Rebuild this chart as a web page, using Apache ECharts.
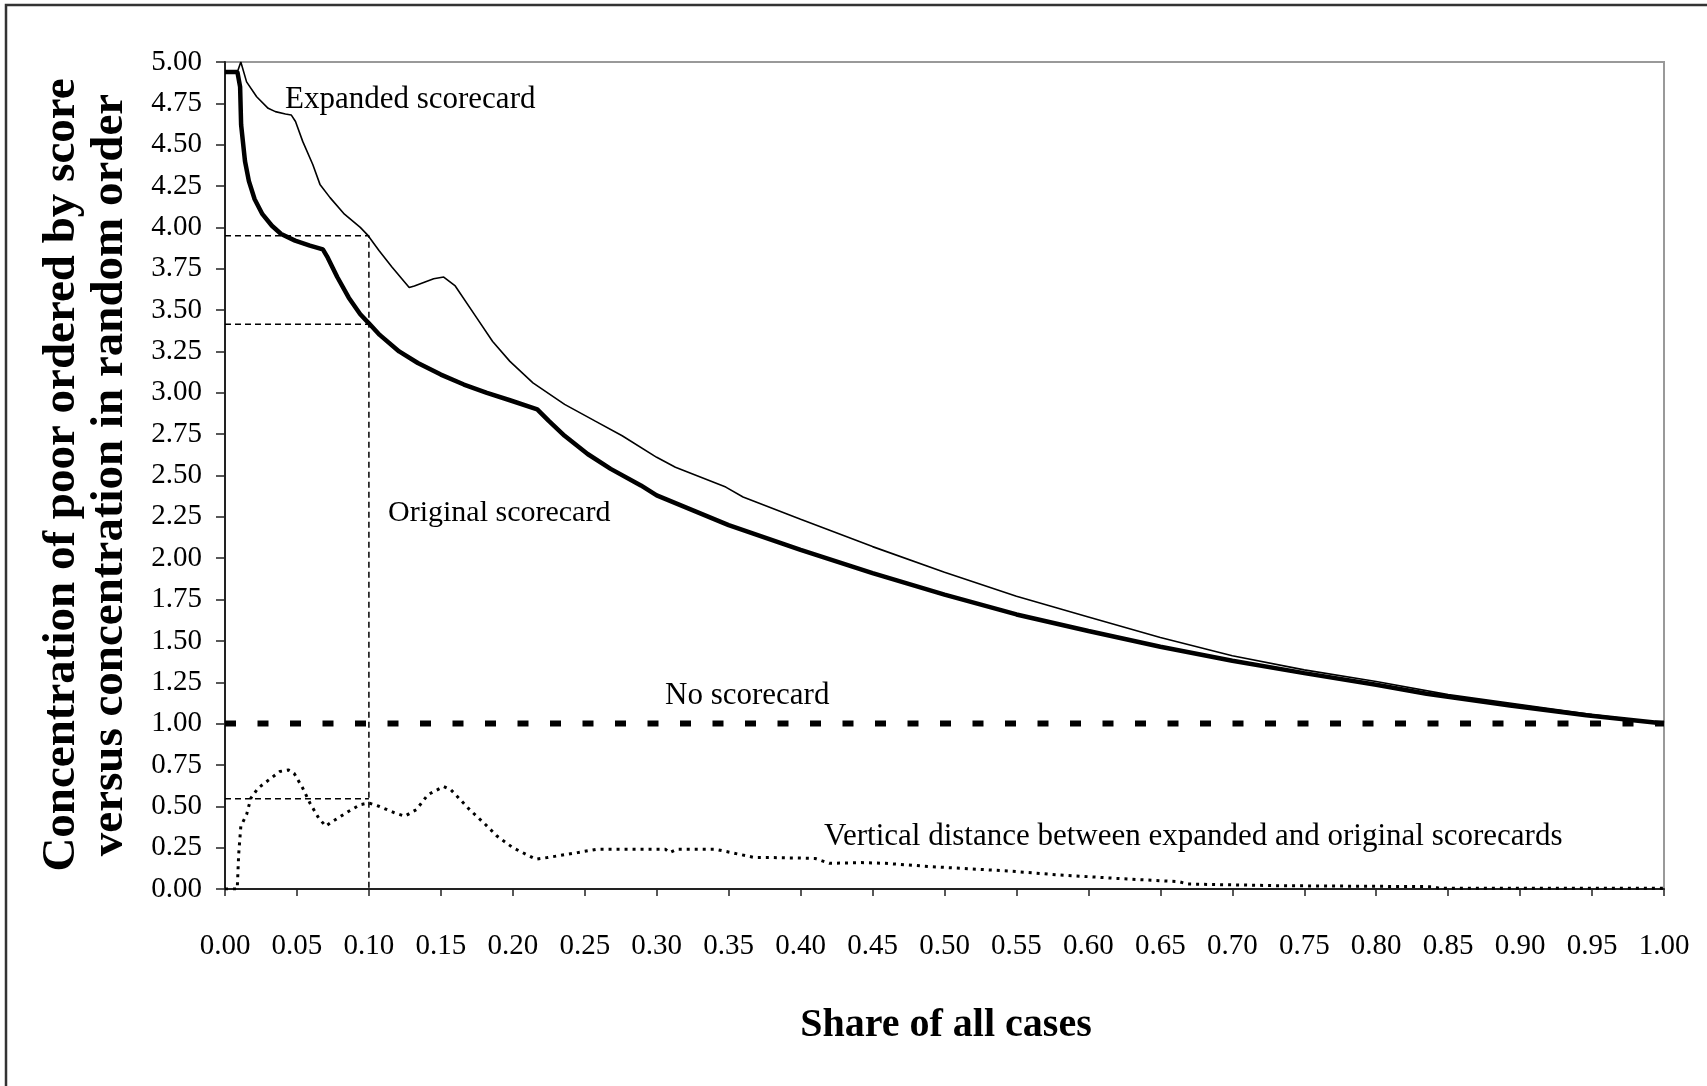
<!DOCTYPE html>
<html>
<head>
<meta charset="utf-8">
<script src="https://cdn.jsdelivr.net/npm/echarts@6/dist/echarts.min.js"></script>
<style>
html,body{margin:0;padding:0;background:#fff;}
#chart{width:1707px;height:1086px;}
</style>
</head>
<body>
<div id="chart"></div>
<script>
// ---- data ----
const xTicks = [0,0.05,0.10,0.15,0.20,0.25,0.30,0.35,0.40,0.45,0.50,0.55,0.60,0.65,0.70,0.75,0.80,0.85,0.90,0.95,1.00];
const yTicks = [0,0.25,0.5,0.75,1,1.25,1.5,1.75,2,2.25,2.5,2.75,3,3.25,3.5,3.75,4,4.25,4.5,4.75,5];

const originalX = [0,0.0086,0.0105,0.0112,0.0139,0.0166,0.0206,0.026,0.0326,0.039,0.0487,0.059,0.068,0.0714,0.078,0.086,0.094,0.100,0.1075,0.121,0.134,0.150,0.166,0.182,0.198,0.217,0.225,0.236,0.252,0.268,0.289,0.30,0.35,0.40,0.45,0.50,0.55,0.60,0.65,0.70,0.75,0.80,0.835,0.893,0.946,1.0];
const originalY = [4.94,4.94,4.85,4.62,4.40,4.28,4.17,4.08,4.01,3.96,3.92,3.89,3.867,3.817,3.70,3.575,3.475,3.42,3.35,3.25,3.18,3.11,3.05,3.00,2.955,2.90,2.83,2.74,2.63,2.54,2.44,2.38,2.20,2.05,1.91,1.78,1.66,1.56,1.465,1.38,1.305,1.235,1.18,1.11,1.05,1.0];

const expandedX = [0,0.0086,0.011,0.015,0.022,0.030,0.035,0.042,0.046,0.049,0.054,0.061,0.066,0.073,0.083,0.094,0.0995,0.107,0.116,0.128,0.1316,0.145,0.152,0.16,0.174,0.186,0.198,0.214,0.236,0.257,0.276,0.30,0.313,0.348,0.36,0.40,0.45,0.50,0.55,0.60,0.65,0.70,0.75,0.80,0.85,0.90,0.95,1.0];
const expandedY = [4.94,4.94,5.00,4.88,4.79,4.72,4.70,4.686,4.68,4.64,4.52,4.38,4.26,4.18,4.08,4.00,3.95,3.86,3.76,3.636,3.646,3.69,3.70,3.646,3.465,3.31,3.19,3.06,2.93,2.83,2.74,2.61,2.55,2.43,2.37,2.235,2.07,1.915,1.77,1.645,1.52,1.41,1.325,1.255,1.175,1.115,1.055,1.0];

const noScoreX = [0,1];
const noScoreY = [1,1];

const distanceX = [0,0.0085,0.0095,0.011,0.015,0.018,0.023,0.032,0.038,0.044,0.048,0.054,0.059,0.065,0.070,0.075,0.086,0.094,0.100,0.107,0.118,0.125,0.133,0.141,0.152,0.157,0.170,0.181,0.189,0.200,0.216,0.224,0.245,0.258,0.288,0.306,0.309,0.314,0.341,0.352,0.368,0.381,0.41,0.42,0.442,0.459,0.491,0.544,0.58,0.62,0.663,0.669,0.732,0.839,0.844,1.0];
const distanceY = [0,0,0.21,0.38,0.45,0.55,0.61,0.67,0.71,0.72,0.70,0.61,0.52,0.43,0.38,0.41,0.47,0.51,0.52,0.50,0.46,0.44,0.48,0.57,0.62,0.60,0.48,0.39,0.32,0.25,0.18,0.19,0.22,0.24,0.24,0.24,0.22,0.24,0.24,0.22,0.19,0.19,0.185,0.155,0.16,0.155,0.135,0.109,0.085,0.064,0.044,0.03,0.02,0.014,0.004,0.004];

// guide lines at share 0.10
const guideShare = 0.10;
const guideExpanded = 3.95;
const guideOriginal = 3.415;
const guideDistance = 0.545;

const labelTexts = {
  expanded: 'Expanded scorecard',
  original: 'Original scorecard',
  none: 'No scorecard',
  distance: 'Vertical distance between expanded and original scorecards',
  xTitle: 'Share of all cases',
  yTitle: 'Concentration of poor ordered by score\nversus concentration in random order'
};

function zip(xs, ys){ return xs.map((x,i)=>[x, ys[i]]); }

const FONT = '"Liberation Serif", "Times New Roman", serif';
const chart = echarts.init(document.getElementById('chart'));

const lineBase = {type:'line', symbol:'none', showSymbol:false, smooth:false, animation:false};

chart.setOption({
  animation:false,
  backgroundColor:'#fff',
  grid:{left:225, top:62, right:43, bottom:197, show:true, borderColor:'#999', borderWidth:2, backgroundColor:'transparent'},
  xAxis:{
    type:'value', min:0, max:1, interval:0.05,
    axisLine:{show:true, onZero:false, lineStyle:{color:'#222', width:2}},
    axisTick:{show:true, length:7, inside:false, lineStyle:{color:'#222', width:1.5}},
    axisLabel:{margin:43, fontFamily:FONT, fontSize:29, color:'#000', formatter:v=>v.toFixed(2)},
    splitLine:{show:false}
  },
  yAxis:{
    type:'value', min:0, max:5, interval:0.25,
    axisLine:{show:true, onZero:false, lineStyle:{color:'#222', width:2}},
    axisTick:{show:true, length:9, inside:false, lineStyle:{color:'#222', width:1.5}},
    axisLabel:{margin:23, fontFamily:FONT, fontSize:29, color:'#000', formatter:v=>v.toFixed(2)},
    splitLine:{show:false}
  },
  series:[
    Object.assign({}, lineBase, {name:'guide1', data:[[0,guideExpanded],[guideShare,guideExpanded],[guideShare,0]],
      lineStyle:{color:'#000', width:1.5, type:[6,4]}, z:1}),
    Object.assign({}, lineBase, {name:'guide2', data:[[0,guideOriginal],[guideShare,guideOriginal]],
      lineStyle:{color:'#000', width:1.5, type:[6,4]}, z:1}),
    Object.assign({}, lineBase, {name:'guide3', data:[[0,guideDistance],[guideShare,guideDistance]],
      lineStyle:{color:'#000', width:1.5, type:[6,4]}, z:1}),
    Object.assign({}, lineBase, {name:labelTexts.distance, data:zip(distanceX, distanceY),
      lineStyle:{color:'#000', width:3, type:[3,5], cap:'butt'}, z:2}),
    Object.assign({}, lineBase, {name:labelTexts.none, data:zip(noScoreX, noScoreY),
      lineStyle:{color:'#000', width:6, type:[11,21.5], cap:'butt'}, z:2}),
    Object.assign({}, lineBase, {name:labelTexts.expanded, data:zip(expandedX, expandedY),
      lineStyle:{color:'#000', width:1.6}, z:3}),
    Object.assign({}, lineBase, {name:labelTexts.original, data:zip(originalX, originalY),
      lineStyle:{color:'#000', width:4.5}, z:4})
  ],
  graphic:[
    {type:'rect', silent:true, z:-10, shape:{x:6, y:5, width:1760, height:1150},
      style:{fill:null, stroke:'#333', lineWidth:2.5}},
    {type:'text', x:285, y:100, style:{text:labelTexts.expanded, fontFamily:FONT, fontSize:31, fill:'#000', align:'left', verticalAlign:'middle'}},
    {type:'text', x:388, y:513, style:{text:labelTexts.original, fontFamily:FONT, fontSize:30, fill:'#000', align:'left', verticalAlign:'middle'}},
    {type:'text', x:665, y:696, style:{text:labelTexts.none, fontFamily:FONT, fontSize:31, fill:'#000', align:'left', verticalAlign:'middle'}},
    {type:'text', x:824, y:837, style:{text:labelTexts.distance, fontFamily:FONT, fontSize:31, fill:'#000', align:'left', verticalAlign:'middle'}},
    {type:'text', x:946, y:1026, style:{text:labelTexts.xTitle, fontFamily:FONT, fontSize:40, fontWeight:'bold', fill:'#000', align:'center', verticalAlign:'middle'}},
    {type:'text', x:86, y:475, rotation:Math.PI/2, style:{text:labelTexts.yTitle, fontFamily:FONT, fontSize:47, lineHeight:48, fontWeight:'bold', fill:'#000', align:'center', verticalAlign:'middle'}}
  ]
});
</script>
</body>
</html>
